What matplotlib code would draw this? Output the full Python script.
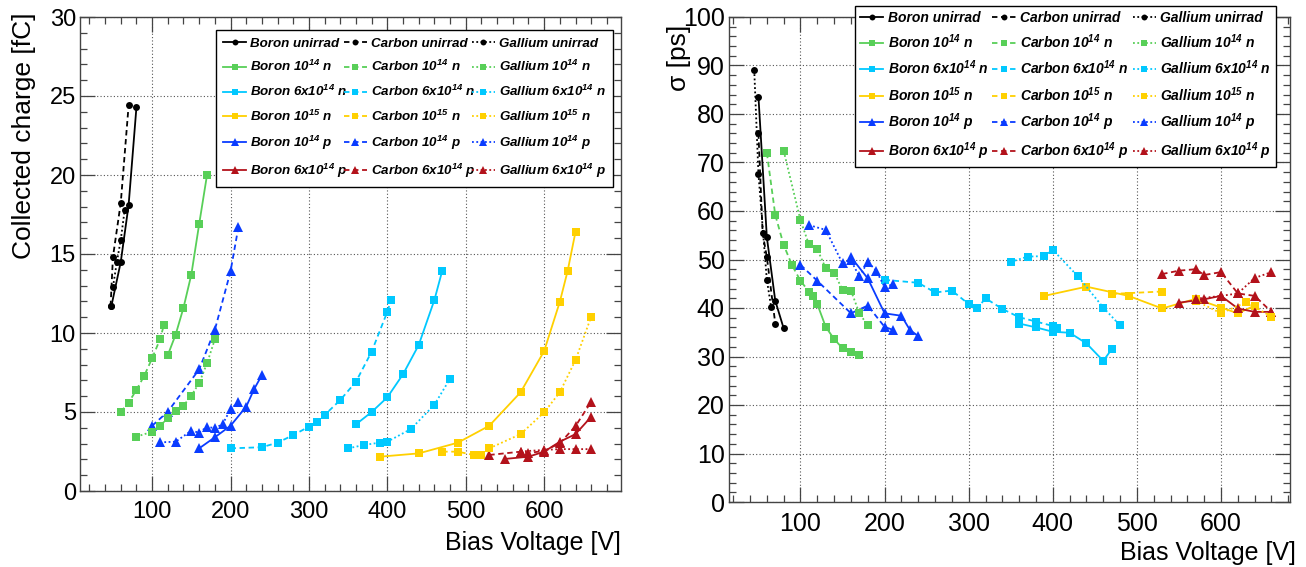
import matplotlib
matplotlib.use("Agg")
import matplotlib.pyplot as plt
from matplotlib.ticker import MultipleLocator

plt.rcParams['font.family'] = ['Liberation Sans Narrow', 'Liberation Sans', 'DejaVu Sans']
plt.rcParams['mathtext.fontset'] = 'custom'
plt.rcParams['mathtext.bf'] = 'Liberation Sans:italic:bold'
plt.rcParams['mathtext.rm'] = 'Liberation Sans:italic:bold'
plt.rcParams['mathtext.default'] = 'bf'

# ---- series definitions (order: Boron x6, Carbon x6, Gallium x6) ----
DOPANTS = ["Boron", "Carbon", "Gallium"]
FLUENCES = ["unirrad", r"$10^{14}$ n", r"6x$10^{14}$ n", r"$10^{15}$ n",
            r"$10^{14}$ p", r"6x$10^{14}$ p"]
COLORS = ["#000000", "#58cf58", "#00c8ff", "#ffd000", "#0a3cff", "#b3121b"]
MARKERS = ["o", "s", "s", "s", "^", "^"]
STYLES = ["-", (0, (3, 2)), (0, (1, 1.4))]

# ---- collected charge [fC] vs bias voltage [V] ----
q_boron_v = [[48, 60, 70, 80],
             [120, 130, 140, 150, 160, 170],
             [360, 380, 400, 420, 440, 460, 470],
             [390, 440, 490, 530, 570, 600, 620, 630, 640],
             [160, 180, 200, 220, 230, 240],
             [550, 580, 600, 620, 640, 660]]
q_boron = [[11.7, 14.5, 18.1, 24.3],
           [8.6, 9.9, 11.6, 13.7, 16.9, 20.0],
           [4.22, 5.0, 5.93, 7.39, 9.24, 12.09, 13.94],
           [2.17, 2.38, 3.06, 4.13, 6.25, 8.86, 11.98, 13.94, 16.41],
           [2.7, 3.4, 4.13, 5.34, 6.44, 7.34],
           [2.03, 2.17, 2.49, 3.12, 3.6, 4.7]]
q_carbon_v = [[47, 50, 60, 70],
              [60, 70, 80, 90, 100, 110, 115],
              [200, 240, 260, 280, 300, 310, 320, 340, 360, 380, 400, 405],
              [470, 490, 510, 520],
              [100, 120, 160, 180, 200, 210],
              [530, 570, 580, 600, 620, 640, 660]]
q_carbon = [[11.7, 14.8, 18.25, 24.4],
            [5.0, 5.6, 6.4, 7.3, 8.4, 9.6, 10.5],
            [2.7, 2.77, 3.06, 3.54, 4.07, 4.35, 4.81, 5.76, 6.92, 8.82, 11.35, 12.09],
            [2.49, 2.49, 2.28, 2.28],
            [4.13, 5.02, 7.7, 10.2, 13.9, 16.7],
            [2.28, 2.49, 2.39, 2.55, 3.02, 4.11, 5.65]]
q_gallium_v = [[50, 55, 60, 65],
               [80, 100, 110, 120, 130, 140, 150, 160, 170, 180],
               [350, 370, 390, 400, 430, 460, 480],
               [530, 570, 600, 620, 640, 660],
               [110, 130, 150, 160, 170, 180, 190, 200, 210],
               [570, 600, 620, 640, 660]]
q_gallium = [[12.9, 14.5, 15.9, 17.8],
             [3.44, 3.75, 4.13, 4.6, 5.08, 5.4, 6.03, 6.84, 8.08, 9.6],
             [2.7, 2.91, 3.06, 3.12, 3.92, 5.46, 7.11],
             [2.7, 3.6, 4.98, 6.25, 8.29, 11.03],
             [3.08, 3.12, 3.82, 3.69, 4.07, 3.97, 4.24, 5.17, 5.65],
             [2.5, 2.6, 2.65, 2.65, 2.65]]

# ---- time resolution sigma [ps] vs bias voltage [V] ----
s_boron_v = [[50, 60, 70, 80],
             [120, 130, 140, 150, 160, 170],
             [360, 380, 400, 420, 440, 460, 470],
             [390, 440, 490, 530, 570, 600, 620, 640],
             [160, 180, 200, 220, 230, 240],
             [550, 580, 600, 620, 640, 660]]
s_boron = [[83.6, 54.6, 41.5, 35.8],
           [40.8, 36.1, 33.6, 31.7, 30.9, 30.3],
           [36.8, 36.0, 35.1, 34.9, 32.7, 29.1, 31.5],
           [42.5, 44.4, 42.5, 39.9, 41.9, 40.1, 38.9, 40.5],
           [50.5, 46.1, 38.9, 38.4, 35.5, 34.2],
           [41.1, 41.8, 42.5, 39.9, 39.2, 39.2]]
s_carbon_v = [[50, 55, 60, 70],
              [60, 70, 80, 90, 100, 110, 115],
              [200, 240, 260, 280, 300, 310, 320, 340, 360, 380, 400, 405],
              [470, 530],
              [100, 120, 160, 180, 200, 210],
              [530, 550, 570, 580, 600, 620, 640, 660]]
s_carbon = [[76.0, 55.4, 50.5, 36.8],
            [72.0, 59.2, 53.0, 48.8, 45.6, 43.4, 42.5],
            [45.8, 45.2, 43.2, 43.6, 40.8, 39.9, 42.0, 39.8, 38.1, 37.2, 36.3, 35.8],
            [42.9, 43.4],
            [48.9, 45.6, 38.9, 40.5, 36.1, 35.5],
            [47.0, 47.7, 48.0, 46.8, 47.4, 43.0, 42.5, 39.2]]
s_gallium_v = [[45, 50, 60, 65],
               [80, 100, 110, 120, 130, 140, 150, 160, 170, 180],
               [350, 370, 390, 400, 430, 460, 480],
               [570, 600, 630, 660],
               [110, 130, 150, 160, 170, 180, 190, 200, 210],
               [570, 600, 620, 640, 660]]
s_gallium = [[89.1, 67.6, 45.8, 40.3],
             [72.4, 58.1, 53.1, 52.1, 48.2, 47.3, 43.7, 43.6, 38.9, 36.4],
             [49.5, 50.6, 50.7, 52.0, 46.5, 40.1, 36.4],
             [41.5, 38.9, 41.2, 38.2],
             [57.1, 56.1, 49.2, 49.8, 46.5, 49.5, 47.7, 44.3, 44.9],
             [41.9, 42.5, 43.0, 46.2, 47.4]]

W, H = 1306, 567
fig = plt.figure(figsize=(W / 100, H / 100), dpi=100)


def px_axes(x0, y0, x1, y1):
    return fig.add_axes([x0 / W, 1 - y1 / H, (x1 - x0) / W, (y1 - y0) / H])


def draw(ax, vs, ys):
    for d in range(3):
        for k in range(6):
            ms = 5 if MARKERS[k] == "o" else (5.5 if MARKERS[k] == "s" else 6.5)
            ax.plot(vs[d][k], ys[d][k], color=COLORS[k], marker=MARKERS[k],
                    markersize=ms, markeredgewidth=0, linestyle=STYLES[d],
                    linewidth=1.3, label=f"{DOPANTS[d]} {FLUENCES[k]}")


def style(ax, xlim, ylim, ymaj, ymin, fs):
    ax.set_xlim(*xlim)
    ax.set_ylim(*ylim)
    ax.xaxis.set_major_locator(MultipleLocator(100))
    ax.xaxis.set_minor_locator(MultipleLocator(20))
    ax.yaxis.set_major_locator(MultipleLocator(ymaj))
    ax.yaxis.set_minor_locator(MultipleLocator(ymin))
    ax.tick_params(which="both", direction="in", top=True, right=True,
                   labelsize=fs, color="#444444")
    ax.tick_params(which="major", length=11, width=0.9)
    ax.tick_params(which="minor", length=5, width=0.9)
    ax.tick_params(axis="x", pad=7)
    ax.tick_params(axis="y", pad=3)
    ax.grid(True, which="major", linestyle=(0, (1, 2)), color="#555555", linewidth=0.8)
    ax.set_axisbelow(True)
    for sp in ax.spines.values():
        sp.set_color("#444444")
        sp.set_linewidth(1.0)


def legend(ax, x0, y0, x1, size, spacing, bpad):
    leg = ax.legend(ncol=3, loc="upper left",
                    bbox_to_anchor=(x0 / W, 1 - y0 / H, (x1 - x0) / W, 0.0),
                    bbox_transform=fig.transFigure, mode="expand",
                    borderaxespad=0,
                    prop={"style": "italic", "weight": "bold",
                          "family": ["Liberation Sans", "DejaVu Sans"], "size": size},
                    handlelength=1.7, handletextpad=0.3, columnspacing=0.05,
                    labelspacing=spacing, markerscale=0.85, frameon=True,
                    fancybox=False, framealpha=1, edgecolor="black",
                    borderpad=bpad)
    leg.get_frame().set_linewidth(1.0)
    return leg


# ---- left panel ----
ax1 = px_axes(80, 17, 621, 491)
draw(ax1, [q_boron_v, q_carbon_v, q_gallium_v], [q_boron, q_carbon, q_gallium])
style(ax1, (8, 698), (0, 30), 5, 1, 17)
ax1.set_ylabel("Collected charge [fC]", loc="top", fontsize=19)
ax1.yaxis.set_label_coords(-0.082, 1.01)
ax1.set_xlabel("Bias Voltage [V]", loc="right", fontsize=18)
ax1.xaxis.set_label_coords(1.0, -0.085)
legend(ax1, 216, 30, 613, 9.6, 0.72, 0.55)

# ---- right panel ----
ax2 = px_axes(729, 17, 1290, 502)
draw(ax2, [s_boron_v, s_carbon_v, s_gallium_v], [s_boron, s_carbon, s_gallium])
style(ax2, (15, 682), (0, 100), 10, 2, 18)
ax2.set_ylabel("σ [ps]", loc="top", fontsize=19)
ax2.yaxis.set_label_coords(-0.068, 0.985)
ax2.set_xlabel("Bias Voltage [V]", loc="right", fontsize=18)
ax2.xaxis.set_label_coords(1.01, -0.08)
legend(ax2, 855, 6, 1276, 10, 0.55, 0.35)

fig.savefig("out.png", dpi=100)
